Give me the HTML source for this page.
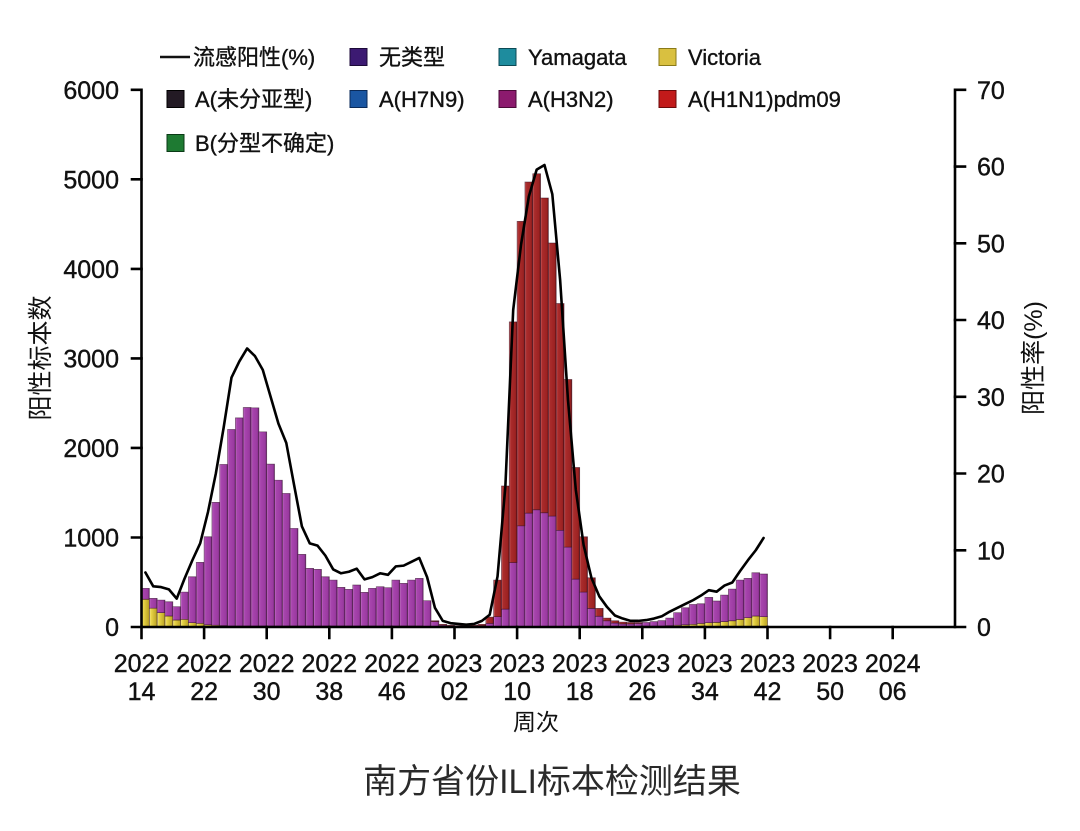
<!DOCTYPE html>
<html><head><meta charset="utf-8">
<style>
html,body{margin:0;padding:0;background:#fff;width:1080px;height:831px;overflow:hidden}
svg{display:block}
</style></head>
<body>
<svg width="1080" height="831" viewBox="0 0 1080 831" xmlns="http://www.w3.org/2000/svg" font-family="'Liberation Sans','Noto Sans CJK SC',sans-serif">
<defs>
<linearGradient id="gp" x1="0" y1="0" x2="1" y2="0">
<stop offset="0" stop-color="#c77ccb"/><stop offset="0.2" stop-color="#a845ae"/><stop offset="0.8" stop-color="#9a3aa0"/><stop offset="1" stop-color="#6a2470"/>
</linearGradient>
<linearGradient id="gr" x1="0" y1="0" x2="1" y2="0">
<stop offset="0" stop-color="#cf6a6a"/><stop offset="0.2" stop-color="#aa2c2c"/><stop offset="0.8" stop-color="#9c2222"/><stop offset="1" stop-color="#661212"/>
</linearGradient>
<linearGradient id="gy" x1="0" y1="0" x2="1" y2="0">
<stop offset="0" stop-color="#f6ea90"/><stop offset="0.25" stop-color="#e8d448"/><stop offset="1" stop-color="#b8a020"/>
</linearGradient>
</defs>

<g font-size="22" fill="#111" stroke="#111" stroke-width="0.35">
<line x1="160" y1="57" x2="190" y2="57" stroke="#111" stroke-width="2.4"/>
<text x="193" y="65">流感阳性(%)</text>
<rect x="350" y="48.5" width="17" height="17" fill="#3c1a72" stroke="#1c0a38" stroke-width="1"/>
<text x="379" y="65">无类型</text>
<rect x="499" y="48.5" width="17" height="17" fill="#1e8c9e" stroke="#0c4a55" stroke-width="1"/>
<text x="528" y="65">Yamagata</text>
<rect x="659" y="48.5" width="17" height="17" fill="#d9c040" stroke="#8a7a18" stroke-width="1"/>
<text x="688" y="65">Victoria</text>
<rect x="167" y="90.5" width="17" height="17" fill="#231a24" stroke="#000" stroke-width="1"/>
<text x="195" y="107">A(未分亚型)</text>
<rect x="350" y="90.5" width="17" height="17" fill="#1a56a2" stroke="#0a2a58" stroke-width="1"/>
<text x="379" y="107">A(H7N9)</text>
<rect x="499" y="90.5" width="17" height="17" fill="#8c1a6e" stroke="#4a0a38" stroke-width="1"/>
<text x="528" y="107">A(H3N2)</text>
<rect x="659" y="90.5" width="17" height="17" fill="#c21a1a" stroke="#6a0a0a" stroke-width="1"/>
<text x="688" y="107">A(H1N1)pdm09</text>
<rect x="167" y="134.5" width="17" height="17" fill="#1e7a32" stroke="#0a3a16" stroke-width="1"/>
<text x="195" y="151">B(分型不确定)</text>
</g>

<g transform="translate(141.5 627) scale(7.825 -0.08953)" stroke="#2a0a20" stroke-opacity="0.6" stroke-width="0.7">
<g fill="url(#gy)">
<rect vector-effect="non-scaling-stroke" x="0" y="0" width="1" height="310"/>
<rect vector-effect="non-scaling-stroke" x="1" y="0" width="1" height="210"/>
<rect vector-effect="non-scaling-stroke" x="2" y="0" width="1" height="160"/>
<rect vector-effect="non-scaling-stroke" x="3" y="0" width="1" height="123"/>
<rect vector-effect="non-scaling-stroke" x="4" y="0" width="1" height="78"/>
<rect vector-effect="non-scaling-stroke" x="5" y="0" width="1" height="86"/>
<rect vector-effect="non-scaling-stroke" x="6" y="0" width="1" height="48"/>
<rect vector-effect="non-scaling-stroke" x="7" y="0" width="1" height="41"/>
<rect vector-effect="non-scaling-stroke" x="8" y="0" width="1" height="25"/>
<rect vector-effect="non-scaling-stroke" x="9" y="0" width="1" height="20"/>
<rect vector-effect="non-scaling-stroke" x="10" y="0" width="1" height="15"/>
<rect vector-effect="non-scaling-stroke" x="11" y="0" width="25" height="12"/>
<rect vector-effect="non-scaling-stroke" x="64" y="0" width="1" height="10"/>
<rect vector-effect="non-scaling-stroke" x="65" y="0" width="1" height="10"/>
<rect vector-effect="non-scaling-stroke" x="66" y="0" width="1" height="12"/>
<rect vector-effect="non-scaling-stroke" x="67" y="0" width="1" height="15"/>
<rect vector-effect="non-scaling-stroke" x="68" y="0" width="1" height="20"/>
<rect vector-effect="non-scaling-stroke" x="69" y="0" width="1" height="25"/>
<rect vector-effect="non-scaling-stroke" x="70" y="0" width="1" height="30"/>
<rect vector-effect="non-scaling-stroke" x="71" y="0" width="1" height="40"/>
<rect vector-effect="non-scaling-stroke" x="72" y="0" width="1" height="48"/>
<rect vector-effect="non-scaling-stroke" x="73" y="0" width="1" height="52"/>
<rect vector-effect="non-scaling-stroke" x="74" y="0" width="1" height="60"/>
<rect vector-effect="non-scaling-stroke" x="75" y="0" width="1" height="70"/>
<rect vector-effect="non-scaling-stroke" x="76" y="0" width="1" height="85"/>
<rect vector-effect="non-scaling-stroke" x="77" y="0" width="1" height="104"/>
<rect vector-effect="non-scaling-stroke" x="78" y="0" width="1" height="123"/>
<rect vector-effect="non-scaling-stroke" x="79" y="0" width="1" height="115"/>
</g>
<g fill="url(#gp)">
<rect vector-effect="non-scaling-stroke" x="0" y="310" width="1" height="122"/>
<rect vector-effect="non-scaling-stroke" x="1" y="210" width="1" height="110"/>
<rect vector-effect="non-scaling-stroke" x="2" y="160" width="1" height="141"/>
<rect vector-effect="non-scaling-stroke" x="3" y="123" width="1" height="159"/>
<rect vector-effect="non-scaling-stroke" x="4" y="78" width="1" height="149"/>
<rect vector-effect="non-scaling-stroke" x="5" y="86" width="1" height="304"/>
<rect vector-effect="non-scaling-stroke" x="6" y="48" width="1" height="513"/>
<rect vector-effect="non-scaling-stroke" x="7" y="41" width="1" height="681"/>
<rect vector-effect="non-scaling-stroke" x="8" y="25" width="1" height="983"/>
<rect vector-effect="non-scaling-stroke" x="9" y="20" width="1" height="1372"/>
<rect vector-effect="non-scaling-stroke" x="10" y="15" width="1" height="1801"/>
<rect vector-effect="non-scaling-stroke" x="11" y="12" width="1" height="2194"/>
<rect vector-effect="non-scaling-stroke" x="12" y="12" width="1" height="2324"/>
<rect vector-effect="non-scaling-stroke" x="13" y="12" width="1" height="2440"/>
<rect vector-effect="non-scaling-stroke" x="14" y="12" width="1" height="2436"/>
<rect vector-effect="non-scaling-stroke" x="15" y="12" width="1" height="2168"/>
<rect vector-effect="non-scaling-stroke" x="16" y="12" width="1" height="1807"/>
<rect vector-effect="non-scaling-stroke" x="17" y="12" width="1" height="1628"/>
<rect vector-effect="non-scaling-stroke" x="18" y="12" width="1" height="1480"/>
<rect vector-effect="non-scaling-stroke" x="19" y="12" width="1" height="1089"/>
<rect vector-effect="non-scaling-stroke" x="20" y="12" width="1" height="799"/>
<rect vector-effect="non-scaling-stroke" x="21" y="12" width="1" height="643"/>
<rect vector-effect="non-scaling-stroke" x="22" y="12" width="1" height="632"/>
<rect vector-effect="non-scaling-stroke" x="23" y="12" width="1" height="549"/>
<rect vector-effect="non-scaling-stroke" x="24" y="12" width="1" height="512"/>
<rect vector-effect="non-scaling-stroke" x="25" y="12" width="1" height="431"/>
<rect vector-effect="non-scaling-stroke" x="26" y="12" width="1" height="408"/>
<rect vector-effect="non-scaling-stroke" x="27" y="12" width="1" height="457"/>
<rect vector-effect="non-scaling-stroke" x="28" y="12" width="1" height="375"/>
<rect vector-effect="non-scaling-stroke" x="29" y="12" width="1" height="420"/>
<rect vector-effect="non-scaling-stroke" x="30" y="12" width="1" height="438"/>
<rect vector-effect="non-scaling-stroke" x="31" y="12" width="1" height="427"/>
<rect vector-effect="non-scaling-stroke" x="32" y="12" width="1" height="512"/>
<rect vector-effect="non-scaling-stroke" x="33" y="12" width="1" height="475"/>
<rect vector-effect="non-scaling-stroke" x="34" y="12" width="1" height="512"/>
<rect vector-effect="non-scaling-stroke" x="35" y="12" width="1" height="531"/>
<rect vector-effect="non-scaling-stroke" x="36" y="0" width="1" height="294"/>
<rect vector-effect="non-scaling-stroke" x="37" y="0" width="1" height="60"/>
<rect vector-effect="non-scaling-stroke" x="38" y="0" width="1" height="20"/>
<rect vector-effect="non-scaling-stroke" x="39" y="0" width="1" height="10"/>
<rect vector-effect="non-scaling-stroke" x="40" y="0" width="1" height="8"/>
<rect vector-effect="non-scaling-stroke" x="41" y="0" width="1" height="8"/>
<rect vector-effect="non-scaling-stroke" x="42" y="0" width="1" height="10"/>
<rect vector-effect="non-scaling-stroke" x="43" y="0" width="1" height="15"/>
<rect vector-effect="non-scaling-stroke" x="44" y="0" width="1" height="40"/>
<rect vector-effect="non-scaling-stroke" x="45" y="0" width="1" height="115"/>
<rect vector-effect="non-scaling-stroke" x="46" y="0" width="1" height="200"/>
<rect vector-effect="non-scaling-stroke" x="47" y="0" width="1" height="720"/>
<rect vector-effect="non-scaling-stroke" x="48" y="0" width="1" height="1130"/>
<rect vector-effect="non-scaling-stroke" x="49" y="0" width="1" height="1272"/>
<rect vector-effect="non-scaling-stroke" x="50" y="0" width="1" height="1310"/>
<rect vector-effect="non-scaling-stroke" x="51" y="0" width="1" height="1276"/>
<rect vector-effect="non-scaling-stroke" x="52" y="0" width="1" height="1239"/>
<rect vector-effect="non-scaling-stroke" x="53" y="0" width="1" height="1080"/>
<rect vector-effect="non-scaling-stroke" x="54" y="0" width="1" height="893"/>
<rect vector-effect="non-scaling-stroke" x="55" y="0" width="1" height="535"/>
<rect vector-effect="non-scaling-stroke" x="56" y="0" width="1" height="390"/>
<rect vector-effect="non-scaling-stroke" x="57" y="0" width="1" height="208"/>
<rect vector-effect="non-scaling-stroke" x="58" y="0" width="1" height="120"/>
<rect vector-effect="non-scaling-stroke" x="59" y="0" width="1" height="70"/>
<rect vector-effect="non-scaling-stroke" x="60" y="0" width="1" height="45"/>
<rect vector-effect="non-scaling-stroke" x="61" y="0" width="1" height="35"/>
<rect vector-effect="non-scaling-stroke" x="62" y="0" width="1" height="35"/>
<rect vector-effect="non-scaling-stroke" x="63" y="0" width="1" height="40"/>
<rect vector-effect="non-scaling-stroke" x="64" y="10" width="1" height="40"/>
<rect vector-effect="non-scaling-stroke" x="65" y="10" width="1" height="50"/>
<rect vector-effect="non-scaling-stroke" x="66" y="12" width="1" height="60"/>
<rect vector-effect="non-scaling-stroke" x="67" y="15" width="1" height="85"/>
<rect vector-effect="non-scaling-stroke" x="68" y="20" width="1" height="140"/>
<rect vector-effect="non-scaling-stroke" x="69" y="25" width="1" height="190"/>
<rect vector-effect="non-scaling-stroke" x="70" y="30" width="1" height="222"/>
<rect vector-effect="non-scaling-stroke" x="71" y="40" width="1" height="220"/>
<rect vector-effect="non-scaling-stroke" x="72" y="48" width="1" height="283"/>
<rect vector-effect="non-scaling-stroke" x="73" y="52" width="1" height="238"/>
<rect vector-effect="non-scaling-stroke" x="74" y="60" width="1" height="297"/>
<rect vector-effect="non-scaling-stroke" x="75" y="70" width="1" height="354"/>
<rect vector-effect="non-scaling-stroke" x="76" y="85" width="1" height="439"/>
<rect vector-effect="non-scaling-stroke" x="77" y="104" width="1" height="439"/>
<rect vector-effect="non-scaling-stroke" x="78" y="123" width="1" height="483"/>
<rect vector-effect="non-scaling-stroke" x="79" y="115" width="1" height="477"/>
</g>
<g fill="url(#gr)">
<rect vector-effect="non-scaling-stroke" x="37" y="60" width="1" height="10"/>
<rect vector-effect="non-scaling-stroke" x="38" y="20" width="1" height="10"/>
<rect vector-effect="non-scaling-stroke" x="39" y="10" width="1" height="10"/>
<rect vector-effect="non-scaling-stroke" x="40" y="8" width="1" height="7"/>
<rect vector-effect="non-scaling-stroke" x="41" y="8" width="1" height="7"/>
<rect vector-effect="non-scaling-stroke" x="42" y="10" width="1" height="10"/>
<rect vector-effect="non-scaling-stroke" x="43" y="15" width="1" height="15"/>
<rect vector-effect="non-scaling-stroke" x="44" y="40" width="1" height="70"/>
<rect vector-effect="non-scaling-stroke" x="45" y="115" width="1" height="409"/>
<rect vector-effect="non-scaling-stroke" x="46" y="200" width="1" height="1375"/>
<rect vector-effect="non-scaling-stroke" x="47" y="720" width="1" height="2688"/>
<rect vector-effect="non-scaling-stroke" x="48" y="1130" width="1" height="3401"/>
<rect vector-effect="non-scaling-stroke" x="49" y="1272" width="1" height="3698"/>
<rect vector-effect="non-scaling-stroke" x="50" y="1310" width="1" height="3753"/>
<rect vector-effect="non-scaling-stroke" x="51" y="1276" width="1" height="3516"/>
<rect vector-effect="non-scaling-stroke" x="52" y="1239" width="1" height="3050"/>
<rect vector-effect="non-scaling-stroke" x="53" y="1080" width="1" height="2533"/>
<rect vector-effect="non-scaling-stroke" x="54" y="893" width="1" height="1872"/>
<rect vector-effect="non-scaling-stroke" x="55" y="535" width="1" height="1247"/>
<rect vector-effect="non-scaling-stroke" x="56" y="390" width="1" height="618"/>
<rect vector-effect="non-scaling-stroke" x="57" y="208" width="1" height="342"/>
<rect vector-effect="non-scaling-stroke" x="58" y="120" width="1" height="88"/>
<rect vector-effect="non-scaling-stroke" x="59" y="70" width="1" height="30"/>
<rect vector-effect="non-scaling-stroke" x="60" y="45" width="1" height="25"/>
<rect vector-effect="non-scaling-stroke" x="61" y="35" width="1" height="20"/>
<rect vector-effect="non-scaling-stroke" x="62" y="35" width="1" height="15"/>
<rect vector-effect="non-scaling-stroke" x="63" y="40" width="1" height="10"/>
</g>
</g>

<g transform="translate(141.5 627) scale(7.825 -7.674)">
<polyline vector-effect="non-scaling-stroke" fill="none" stroke="#000" stroke-width="2.6" stroke-linejoin="round" stroke-linecap="round" points="0.5,7.1 1.5,5.3 2.5,5.2 3.5,4.9 4.5,3.7 5.5,6.3 6.5,8.7 7.5,10.9 8.5,15 9.5,20 10.5,26 11.5,32.5 12.5,34.6 13.5,36.3 14.5,35.3 15.5,33.5 16.5,30 17.5,26.5 18.5,24 19.5,18.5 20.5,13.1 21.5,10.9 22.5,10.6 23.5,9.3 24.5,7.5 25.5,7.0 26.5,7.2 27.5,7.6 28.5,6.2 29.5,6.5 30.5,7.0 31.5,6.8 32.5,7.9 33.5,8.0 34.5,8.5 35.5,9.0 36.5,6.5 37.5,2.5 38.5,0.8 39.5,0.5 40.5,0.4 41.5,0.3 42.5,0.4 43.5,0.8 44.5,1.6 45.5,6.6 46.5,18.3 47.5,41.3 48.5,49.8 49.5,56.1 50.5,59.6 51.5,60.2 52.5,56.4 53.5,45.2 54.5,29.6 55.5,17.9 56.5,10.7 57.5,6.4 58.5,4.0 59.5,2.6 60.5,1.5 61.5,1.1 62.5,0.8 63.5,0.8 64.5,0.9 65.5,1.1 66.5,1.4 67.5,2.0 68.5,2.5 69.5,3.0 70.5,3.5 71.5,4.1 72.5,4.8 73.5,4.6 74.5,5.4 75.5,5.8 76.5,7.3 77.5,8.7 78.5,10.0 79.5,11.6"/>
</g>

<g stroke="#000" stroke-width="2.6" fill="none" stroke-linecap="square">
<path d="M132,89.8 H141.5 V627 H955 V89.8 H965"/>
<path d="M132,627 H141.5 M132,537.5 H141.5 M132,447.9 H141.5 M132,358.4 H141.5 M132,268.9 H141.5 M132,179.3 H141.5"/>
<path d="M955,627 H965 M955,550.3 H965 M955,473.5 H965 M955,396.8 H965 M955,320 H965 M955,243.3 H965 M955,166.6 H965"/>
<path d="M141.5,627 V638 M204.1,627 V638 M266.7,627 V638 M329.3,627 V638 M391.9,627 V638 M454.5,627 V638 M517.1,627 V638 M579.7,627 V638 M642.3,627 V638 M704.9,627 V638 M767.5,627 V638 M830.1,627 V638 M892.7,627 V638"/>
</g>

<g font-size="25" fill="#111" stroke="#111" stroke-width="0.4" text-anchor="end">
<text x="119" y="636">0</text>
<text x="119" y="546.5">1000</text>
<text x="119" y="457">2000</text>
<text x="119" y="367.5">3000</text>
<text x="119" y="278">4000</text>
<text x="119" y="188.5">5000</text>
<text x="119" y="99">6000</text>
</g>
<g font-size="25" fill="#111" stroke="#111" stroke-width="0.4" text-anchor="start">
<text x="977" y="636">0</text>
<text x="977" y="559.3">10</text>
<text x="977" y="482.5">20</text>
<text x="977" y="405.8">30</text>
<text x="977" y="329">40</text>
<text x="977" y="252.3">50</text>
<text x="977" y="175.6">60</text>
<text x="977" y="99">70</text>
</g>
<g font-size="25" fill="#111" stroke="#111" stroke-width="0.4" text-anchor="middle">
<text x="141.5" y="672">2022</text><text x="141.5" y="700">14</text>
<text x="204.1" y="672">2022</text><text x="204.1" y="700">22</text>
<text x="266.7" y="672">2022</text><text x="266.7" y="700">30</text>
<text x="329.3" y="672">2022</text><text x="329.3" y="700">38</text>
<text x="391.9" y="672">2022</text><text x="391.9" y="700">46</text>
<text x="454.5" y="672">2023</text><text x="454.5" y="700">02</text>
<text x="517.1" y="672">2023</text><text x="517.1" y="700">10</text>
<text x="579.7" y="672">2023</text><text x="579.7" y="700">18</text>
<text x="642.3" y="672">2023</text><text x="642.3" y="700">26</text>
<text x="704.9" y="672">2023</text><text x="704.9" y="700">34</text>
<text x="767.5" y="672">2023</text><text x="767.5" y="700">42</text>
<text x="830.1" y="672">2023</text><text x="830.1" y="700">50</text>
<text x="892.7" y="672">2024</text><text x="892.7" y="700">06</text>
</g>

<text x="536" y="730" font-size="23" fill="#111" text-anchor="middle">周次</text>
<text transform="translate(49 358) rotate(-90)" font-size="25" fill="#111" text-anchor="middle">阳性标本数</text>
<text transform="translate(1042 358) rotate(-90)" font-size="25" fill="#111" text-anchor="middle">阳性率(%)</text>

<text x="552" y="793" font-size="34" fill="#2a2a2a" text-anchor="middle">南方省份ILI标本检测结果</text>
</svg>
</body></html>
